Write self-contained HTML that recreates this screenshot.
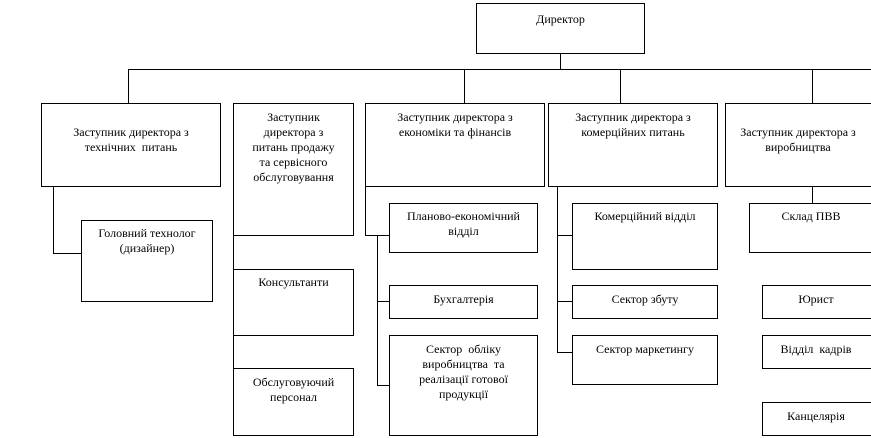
<!DOCTYPE html>
<html><head><meta charset="utf-8"><style>
body{margin:0;width:871px;height:438px;overflow:hidden;background:#fff;position:relative;font-family:"Liberation Serif",serif;font-size:12px;color:#000}
.b{position:absolute;border:1px solid #000;box-sizing:border-box;text-align:center;line-height:15px;background:#fff}
.l{position:absolute;background:#000}
</style></head><body>
<div class="l" style="left:560px;top:53px;width:1px;height:16px"></div>
<div class="l" style="left:128px;top:69px;width:743px;height:1px"></div>
<div class="l" style="left:128px;top:69px;width:1px;height:34px"></div>
<div class="l" style="left:464px;top:69px;width:1px;height:34px"></div>
<div class="l" style="left:620px;top:69px;width:1px;height:34px"></div>
<div class="l" style="left:812px;top:69px;width:1px;height:34px"></div>
<div class="l" style="left:53px;top:186px;width:1px;height:68px"></div>
<div class="l" style="left:53px;top:253px;width:28px;height:1px"></div>
<div class="l" style="left:233px;top:103px;width:1px;height:333px"></div>
<div class="l" style="left:365px;top:186px;width:1px;height:50px"></div>
<div class="l" style="left:365px;top:235px;width:24px;height:1px"></div>
<div class="l" style="left:377px;top:235px;width:1px;height:151px"></div>
<div class="l" style="left:377px;top:301px;width:12px;height:1px"></div>
<div class="l" style="left:377px;top:385px;width:12px;height:1px"></div>
<div class="l" style="left:557px;top:186px;width:1px;height:167px"></div>
<div class="l" style="left:557px;top:235px;width:15px;height:1px"></div>
<div class="l" style="left:557px;top:301px;width:15px;height:1px"></div>
<div class="l" style="left:557px;top:352px;width:15px;height:1px"></div>
<div class="l" style="left:812px;top:186px;width:1px;height:17px"></div>

<div class="b" style="left:476px;top:3px;width:169px;height:51px;padding-top:8px">Директор</div>
<div class="b" style="left:41px;top:103px;width:180px;height:84px;padding-top:21px">Заступник директора з<br>технічних&nbsp; питань</div>
<div class="b" style="left:81px;top:220px;width:132px;height:82px;padding-top:5px">Головний технолог<br>(дизайнер)</div>
<div class="b" style="left:233px;top:103px;width:121px;height:133px;padding-top:6px">Заступник<br>директора з<br>питань продажу<br>та сервісного<br>обслуговування</div>
<div class="b" style="left:233px;top:269px;width:121px;height:67px;padding-top:5px">Консультанти</div>
<div class="b" style="left:233px;top:368px;width:121px;height:68px;padding-top:6px">Обслуговуючий<br>персонал</div>
<div class="b" style="left:365px;top:103px;width:180px;height:84px;padding-top:6px">Заступник директора з<br>економіки та фінансів</div>
<div class="b" style="left:389px;top:203px;width:149px;height:50px;padding-top:5px">Планово-економічний<br>відділ</div>
<div class="b" style="left:389px;top:285px;width:149px;height:34px;padding-top:6px">Бухгалтерія</div>
<div class="b" style="left:389px;top:335px;width:149px;height:101px;padding-top:6px">Сектор&nbsp; обліку<br>виробництва&nbsp; та<br>реалізації готової<br>продукції</div>
<div class="b" style="left:548px;top:103px;width:170px;height:84px;padding-top:6px">Заступник директора з<br>комерційних питань</div>
<div class="b" style="left:572px;top:203px;width:146px;height:67px;padding-top:5px">Комерційний відділ</div>
<div class="b" style="left:572px;top:285px;width:146px;height:34px;padding-top:6px">Сектор збуту</div>
<div class="b" style="left:572px;top:335px;width:146px;height:50px;padding-top:6px">Сектор маркетингу</div>
<div class="b" style="left:725px;top:103px;width:160px;height:84px;padding-top:21px;padding-right:14px;white-space:nowrap">Заступник директора з<br>виробництва</div>
<div class="b" style="left:749px;top:203px;width:140px;height:50px;padding-top:5px;padding-right:16px">Склад ПВВ</div>
<div class="b" style="left:762px;top:285px;width:130px;height:34px;padding-top:6px;padding-right:22px">Юрист</div>
<div class="b" style="left:762px;top:335px;width:130px;height:34px;padding-top:6px;padding-right:22px;white-space:nowrap">Відділ&nbsp; кадрів</div>
<div class="b" style="left:762px;top:402px;width:130px;height:34px;padding-top:6px;padding-right:22px">Канцелярія</div>
</body></html>
